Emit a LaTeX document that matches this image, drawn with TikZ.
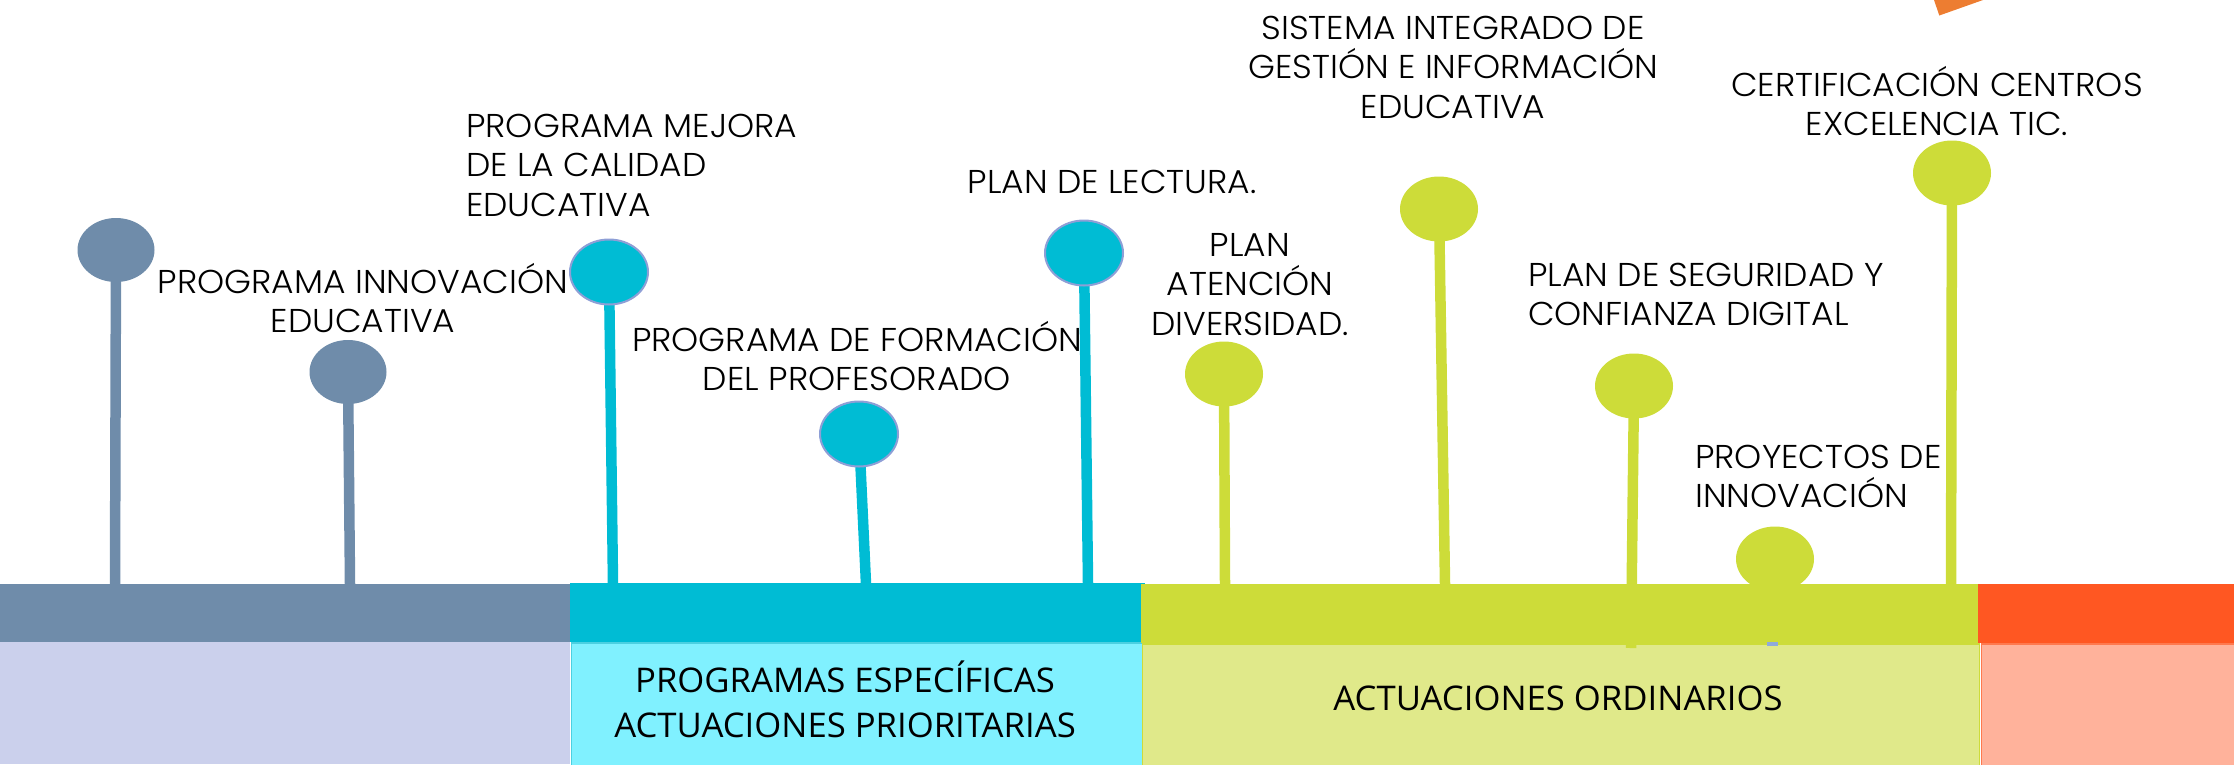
\documentclass[tikz,border=0pt]{standalone}
\usepackage{fontspec}
\setmainfont{Poppins Light}[FakeStretch=1.045]
\newfontfamily\boxfont{Open Sans}[FakeStretch=1.02]
\usetikzlibrary{shapes.geometric}
\definecolor{slate}{HTML}{6F8CAA}
\definecolor{cyanA}{HTML}{00BCD4}
\definecolor{limeA}{HTML}{CDDC39}
\definecolor{redA}{HTML}{FF5722}
\definecolor{slateL}{HTML}{CBD0EC}
\definecolor{cyanL}{HTML}{80F1FF}
\definecolor{limeL}{HTML}{E0E98A}
\definecolor{redL}{HTML}{FFB29B}
\definecolor{ringC}{HTML}{8E9FD6}
\definecolor{orangeT}{HTML}{ED7D31}
\definecolor{tickB}{HTML}{8FAADC}
\pgfdeclarelayer{bg}
\pgfdeclarelayer{txt}
\pgfdeclarelayer{stm}
\pgfsetlayers{bg,txt,stm,main}
\tikzset{
  lbl/.style={inner sep=0pt, anchor=base, font=\fontsize{33}{39.5}\selectfont, text=black},
  lblC/.style={lbl, align=center},
  lblL/.style={lbl, align=left, anchor=base west},
  boxlbl/.style={inner sep=0pt, align=center, font=\boxfont\fontsize{34}{45}\selectfont, text=black},
  pin/.style={ellipse, inner sep=0pt, minimum width=78pt, minimum height=65pt},
  cpin/.style={pin, fill=cyanA, draw=ringC, line width=2pt},
  stemline/.style={line width=10.5pt},
  band/.style={rectangle, inner sep=0pt, anchor=north west},
}
\begin{document}
\begin{tikzpicture}[x=1pt,y=-1pt]
\useasboundingbox (0,0) rectangle (2234,764);
\begin{pgfonlayer}{bg}
% top orange fragment
\fill[orangeT] (1934,0) -- (1939.3,15.5) -- (1983,0) -- cycle;
% lower boxes
\node[band, fill=slateL, minimum width=570pt, minimum height=122pt] (lowA) at (0,642) {};
\node[band, fill=cyanL, draw=cyanA!70, line width=1.5pt, minimum width=571pt, minimum height=124pt] (lowB) at (570.75,642) {};
\node[band, fill=limeL, draw=limeA, line width=1.5pt, minimum width=837pt, minimum height=124pt] (lowC) at (1141.75,643) {};
\node[band, fill=redL, draw=redA!80, line width=1.5pt, minimum width=260pt, minimum height=124pt] (lowD) at (1980.75,643) {};
% top bands
\node[band, fill=slate, minimum width=570pt, minimum height=58pt] (barA) at (0,584) {};
\node[band, fill=cyanA, minimum width=575pt, minimum height=59pt] (barB) at (570,583) {};
\node[band, fill=limeA, minimum width=837pt, minimum height=59pt] (barC) at (1141,584) {};
\node[band, fill=redA, minimum width=256pt, minimum height=59pt] (barD) at (1978,584) {};
\end{pgfonlayer}
\begin{pgfonlayer}{txt}
% box labels (anchored at the baseline of their last line)
\node[boxlbl, anchor=base] (tB) at (845,737) {PROGRAMAS ESPECÍFICAS\\ACTUACIONES PRIORITARIAS};
\node[boxlbl, anchor=base] (tC) at (1558,710) {ACTUACIONES ORDINARIOS};
% labels (anchored at the baseline of their last line)
\node[lblC] (l1) at (363,332.5) {PROGRAMA INNOVACIÓN\\EDUCATIVA};
\node[lblL] (l2) at (466,216) {PROGRAMA MEJORA\\DE LA CALIDAD\\EDUCATIVA};
\node[lblC] (l3) at (857,390.5) {PROGRAMA DE FORMACIÓN\\DEL PROFESORADO};
\node[lblC] (l4) at (1112,193) {PLAN DE LECTURA.};
\node[lblC] (l5) at (1250,335) {PLAN\\ATENCIÓN\\DIVERSIDAD.};
\node[lblC] (l6) at (1453,118) {SISTEMA INTEGRADO DE\\GESTIÓN E INFORMACIÓN\\EDUCATIVA};
\node[lblL] (l7) at (1528,325.5) {PLAN DE SEGURIDAD Y\\CONFIANZA DIGITAL};
\node[lblL] (l8) at (1695,507.5) {PROYECTOS DE\\INNOVACIÓN};
\node[lblC] (l9) at (1937,135.5) {CERTIFICACIÓN CENTROS\\EXCELENCIA TIC.};
\end{pgfonlayer}
% pins
\node[pin, fill=slate, minimum width=77pt, minimum height=64pt] (c1) at (116,250) {};
\node[pin, fill=slate, minimum width=77pt, minimum height=64pt] (c2) at (348,372) {};
\node[cpin] (c3) at (609,272) {};
\node[cpin] (c4) at (859,434) {};
\node[cpin] (c5) at (1084,253) {};
\node[pin, fill=limeA] (c6) at (1224,374) {};
\node[pin, fill=limeA] (c7) at (1439,209) {};
\node[pin, fill=limeA] (c8) at (1634,386) {};
\node[pin, fill=limeA] (c9) at (1775,559) {};
\node[pin, fill=limeA] (c10) at (1952,173) {};
% stem end points on the band
\coordinate (e1) at (115,584);
\coordinate (e2) at (350,584);
\coordinate (e3) at (613,584);
\coordinate (e4) at (866,584);
\coordinate (e5) at (1088,584);
\coordinate (e6) at (1225,584);
\coordinate (e7) at (1445,584);
\coordinate (e8) at (1631,648);
\coordinate (e10) at (1951,584);
\begin{pgfonlayer}{stm}
\draw[stemline, slate] (c1.center) -- (e1);
\draw[stemline, slate] (c2.center) -- (e2);
\draw[stemline, cyanA] (c3.center) -- (e3);
\draw[stemline, cyanA] (c4.center) -- (e4);
\draw[stemline, cyanA] (c5.center) -- (e5);
\draw[stemline, limeA] (c6.center) -- (e6);
\draw[stemline, limeA] (c7.center) -- (e7);
\draw[stemline, limeA] (c8.center) -- (e8);
\draw[stemline, limeA] (c10.center) -- (e10);
\end{pgfonlayer}
% small tick under band
\node[band, fill=tickB, minimum width=11pt, minimum height=4pt] (tick) at (1767,642) {};
\end{tikzpicture}
\end{document}
